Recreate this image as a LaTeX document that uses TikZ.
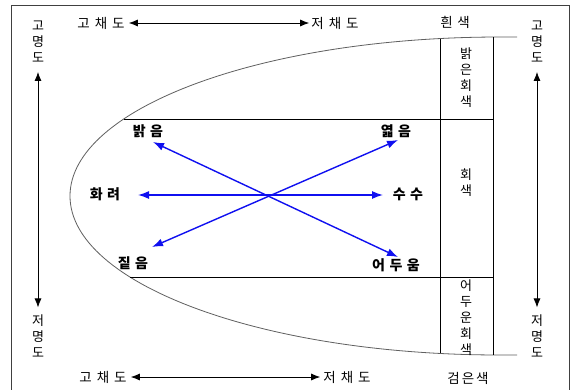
\documentclass[tikz,border=0pt]{standalone}
\usepackage{fontspec}
\setmainfont{Noto Sans CJK KR}
\usetikzlibrary{arrows.meta,positioning}
\definecolor{cFrame}{HTML}{404040}
\definecolor{cCurve}{HTML}{606060}
\definecolor{cTone}{HTML}{1010F0}
\newcommand{\kgap}{\hspace{5pt}}
\newcommand{\tgap}{\hspace{4.5pt}}
\tikzset{
  lbl/.style  = {font=\fontsize{13.5}{15}\selectfont, inner sep=1pt},
  vlbl/.style = {align=center, inner sep=1pt, font=\fontsize{13}{16}\selectfont},
  tone/.style = {font=\bfseries\fontsize{14}{15}\selectfont, inner sep=1pt},
  frm/.style  = {draw=cFrame, line width=0.9pt},
  grid/.style = {draw=black, line width=0.8pt},
  ax/.style   = {{Latex[length=9pt,width=7pt]}-{Latex[length=9pt,width=7pt]}, line width=0.8pt},
  tn/.style   = {{Latex[length=11pt,width=8pt]}-{Latex[length=11pt,width=8pt]}, draw=cTone, line width=1.4pt},
}

\begin{document}
\begin{tikzpicture}[x=1pt, y=-1pt]
  \useasboundingbox[fill=white] (0,0) rectangle (576,389);
  \draw[frm] (11,395) -- (11,5) -- (569,5) -- (569,395);

  % value curve and the grey scale column
  \draw[draw=cCurve, line width=0.8pt] (517,37) -- (500,37)
    arc[start angle=270, end angle=90, x radius=430, y radius=159] -- (517,355);
  \coordinate (c1) at (440,38.6);
  \coordinate (c2) at (440,353.4);
  \coordinate (c3) at (493,37);
  \coordinate (c4) at (493,355);
  \coordinate (r1) at (124,119);
  \coordinate (r2) at (130,277);
  \draw[grid] (c1) -- (c2);
  \draw[grid] (c3) -- (c4);
  \draw[grid] (r1) -- (r1 -| c3);
  \draw[grid] (r2) -- (r2 -| c3);

  \node[lbl] (white) at (455,22) {흰\tgap 색};
  \node[lbl] (black) at (468,378) {검\hspace{2pt}은\hspace{2pt}색};
  \node[vlbl] (lgray) at (466,78) {밝\\은\\회\\색};
  \node[vlbl] (gray) at (466,183) {회\\색};
  \node[vlbl] (dgray) at (466,318) {어\\두\\운\\회\\색};

  % value axes
  \node[vlbl] (hiL) at (38,42) {고\\명\\도};
  \node[vlbl] (loL) at (38,336) {저\\명\\도};
  \node[vlbl] (hiR) at (537,42) {고\\명\\도};
  \node[vlbl] (loR) at (537,336) {저\\명\\도};
  \draw[ax] ([yshift=-8pt]hiL.south) -- ([yshift=6pt]loL.north);
  \draw[ax] ([yshift=-8pt]hiR.south) -- ([yshift=6pt]loR.north);

  % chroma axes
  \node[lbl] (hiT) at (101,23) {고\kgap 채\kgap 도};
  \node[lbl] (loT) at (335,23) {저\kgap 채\kgap 도};
  \node[lbl] (hiB) at (103,377) {고\kgap 채\kgap 도};
  \node[lbl] (loB) at (347,377) {저\kgap 채\kgap 도};
  \draw[ax] ([xshift=3pt]hiT.east) -- ([xshift=-1pt]loT.west);
  \draw[ax] ([xshift=3pt]hiB.east) -- ([xshift=-2pt]loB.west);

  % tones
  \node[tone] (bright) at (148,131) {밝\tgap 음};
  \node[tone] (pale)   at (396,131) {엷\tgap 음};
  \node[tone] (vivid)  at (105,194) {화\tgap 려};
  \node[tone] (plain)  at (408,194) {수\tgap 수};
  \node[tone] (deep)   at (133,263) {짙\tgap 음};
  \node[tone] (dark)   at (396,265) {어\tgap 두\tgap 움};
  \coordinate (tBright) at (153,142);
  \coordinate (tPale)   at (398,140);
  \coordinate (tVivid)  at (138,195);
  \coordinate (tPlain)  at (383,195);
  \coordinate (tDeep)   at (152,247);
  \coordinate (tDark)   at (398,257);
  \draw[tn] (tBright) -- (tDark);
  \draw[tn] (tDeep) -- (tPale);
  \draw[tn] (tVivid) -- (tPlain);
\end{tikzpicture}
\end{document}
